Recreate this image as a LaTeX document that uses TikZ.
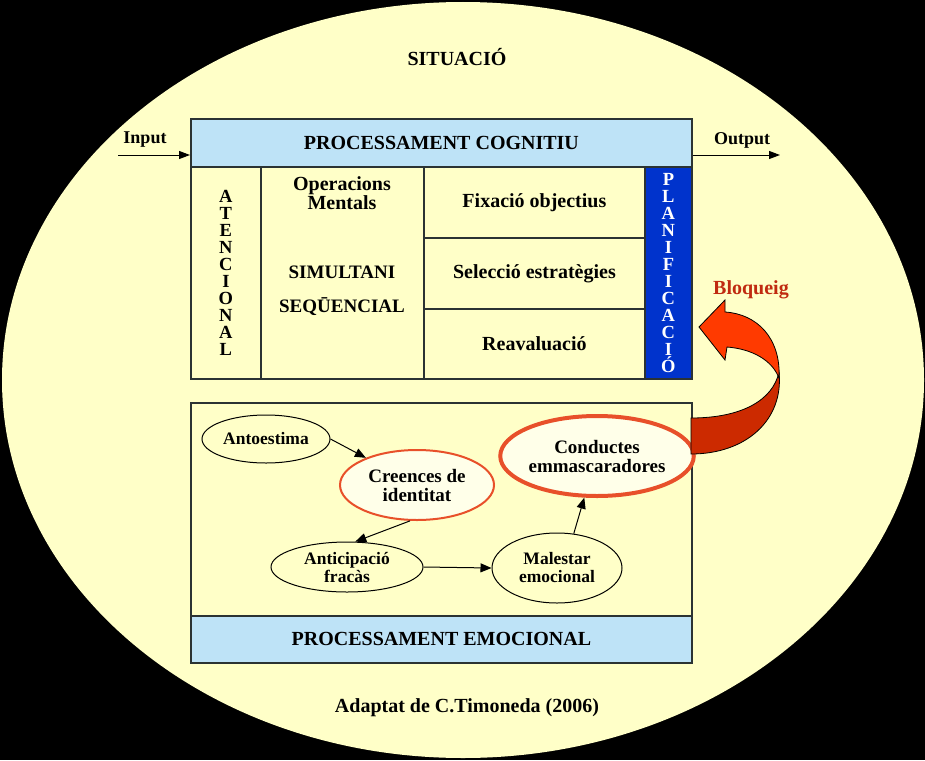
\documentclass[tikz,border=0pt]{standalone}
\usepackage{fontspec}
\setmainfont{Liberation Serif}
\usetikzlibrary{shapes.geometric,arrows.meta,calc}
\definecolor{bgy}{HTML}{FFFFC8}
\definecolor{lblue}{HTML}{BEE3F7}
\definecolor{dblue}{HTML}{0033CC}
\definecolor{rline}{HTML}{E8502A}
\definecolor{bord}{HTML}{2B3333}
\definecolor{arrA}{HTML}{FF3A00}
\definecolor{arrB}{HTML}{CC2A00}
\definecolor{bloq}{HTML}{C02A10}
\begin{document}
\begin{tikzpicture}[x=1pt,y=-1pt,
  ftwenty/.style={font=\fontsize{20}{18}\selectfont\bfseries},
  fnineteen/.style={font=\fontsize{19}{19}\selectfont\bfseries},
  fseventeen/.style={font=\fontsize{17.5}{18}\selectfont\bfseries},
  cell/.style={draw=bord, line width=1.8pt, fill=bgy, inner sep=0pt, anchor=north west, rectangle},
  stack/.style={font=\fontsize{18.5}{17}\selectfont\bfseries, align=center},
  txt/.style={inner sep=0pt, align=center},
  oval/.style={ellipse, draw=black, line width=1pt, fill=bgy, inner sep=0pt, align=center},
  conn/.style={line width=1pt, -{Triangle[length=11pt,width=9pt]}},
  io/.style={line width=1pt, -{Triangle[length=11pt,width=8pt]}}
]
\useasboundingbox (0,0) rectangle (925,760);
\fill[black] (0,0) rectangle (925,760);
\fill[bgy] (463,380) ellipse [x radius=461, y radius=378];

\node[txt, ftwenty] (sit) at (457,57) {SITUACIÓ};

% cognitive box
\node[cell, fill=lblue, minimum width=501, minimum height=48, ftwenty] (hdr) at (190,118) {PROCESSAMENT COGNITIU};
\node[cell, minimum width=70, minimum height=212, stack] (aten) at (190,166) {A\\T\\E\\N\\C\\I\\O\\N\\A\\L};
\node[cell, minimum width=163, minimum height=212] (ops) at (260,166) {};
\node[cell, minimum width=221, minimum height=71, ftwenty] (fix) at (423,166) {Fixació objectius};
\node[cell, minimum width=221, minimum height=71, ftwenty] (sel) at (423,237) {Selecció estratègies};
\node[cell, minimum width=221, minimum height=70, ftwenty] (rea) at (423,308) {Reavaluació};
\node[cell, fill=dblue, minimum width=47, minimum height=212, stack, text=white] (plan) at (644,166) {P\\L\\A\\N\\I\\F\\I\\C\\A\\C\\I\\Ó};

\node[txt, ftwenty] (opm) at (342,193) {Operacions\\Mentals};
\node[txt, fnineteen] (sim) at (342,272) {SIMULTANI};
\node[txt, fnineteen] (seq) at (342,307) {SEQŪENCIAL};

% input / output
\coordinate (inpt) at (118,155);
\coordinate (outp) at (780,155);
\draw[io] (inpt) -- (inpt -| hdr.west);
\draw[io] (outp -| hdr.east) -- (outp);
\node[txt, font=\fontsize{18}{18}\selectfont\bfseries] (inlbl) at (145,140) {Input};
\node[txt, font=\fontsize{18}{18}\selectfont\bfseries] (outlbl) at (742,140) {Output};

% emotional box
\node[cell, minimum width=501, minimum height=213] (emo) at (190,402) {};
\node[cell, fill=lblue, minimum width=501, minimum height=47, ftwenty] (emohdr) at (190,615) {PROCESSAMENT EMOCIONAL};

\node[oval, fseventeen, minimum width=128, minimum height=48] (anto) at (266,439) {Antoestima};
\node[oval, fnineteen, draw=rline, line width=2pt, fill=white!60!bgy, minimum width=154, minimum height=70] (cre) at (417,485) {Creences de\\identitat};
\node[oval, fnineteen, draw=rline, line width=4pt, fill=white!60!bgy, minimum width=164, minimum height=80] (cond) at (597,456) {Conductes\\emmascaradores};
\node[oval, fseventeen, minimum width=152, minimum height=50] (ant) at (347,567) {Anticipació\\fracàs};
\node[oval, fseventeen, minimum width=130, minimum height=70] (mal) at (557,568) {Malestar\\emocional};

\draw[conn] (anto.east) -- (cre.152);
\draw[conn] (cre.259) -- (ant.72);
\draw[conn] (ant.east) -- (mal.west);
\draw[conn] (mal.64) -- (cond.253);

% bloqueig curved arrow
\fill[arrB, draw=black, line width=0.8pt] (691,418) .. controls (742,418) and (773,400) .. (779,372)
  .. controls (784,420) and (746,454) .. (691,454) -- cycle;
\fill[arrA, draw=black, line width=0.8pt] (779,378) .. controls (781,338) and (757,314) .. (725,312)
  -- (725,300) -- (699,327) -- (725,360) -- (727,347)
  .. controls (752,349) and (772,360) .. (779,378) -- cycle;
\node[txt, font=\fontsize{20}{20}\selectfont\bfseries, text=bloq] (bloqlbl) at (751,290) {Bloqueig};

\node[txt, ftwenty] (credit) at (467,708) {Adaptat de C.Timoneda (2006)};
\end{tikzpicture}
\end{document}
